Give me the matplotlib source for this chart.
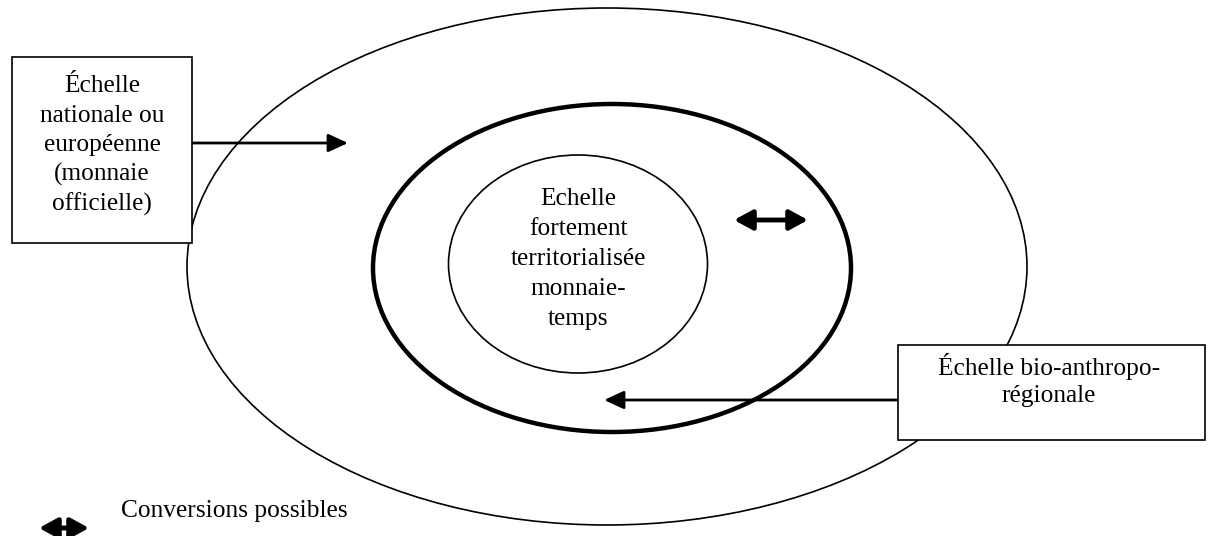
import matplotlib
matplotlib.use('Agg')
import matplotlib.pyplot as plt
from matplotlib.patches import Ellipse, Rectangle

plt.rcParams['font.family'] = ['Liberation Serif', 'DejaVu Serif']

# Texts of the diagram
left_label = ["Échelle", "nationale ou", "européenne", "(monnaie", "officielle)"]
inner_label = ["Echelle", "fortement", "territorialisée", "monnaie-", "temps"]
right_label = ["Échelle bio-anthropo-", "régionale"]
legend_label = "Conversions possibles"

fig = plt.figure(figsize=(12.08, 5.36), dpi=100)
ax = fig.add_axes([0, 0, 1, 1])
ax.set_xlim(0, 1208)
ax.set_ylim(536, 0)
ax.axis('off')

fs = 18.3

# ellipses
ax.add_patch(Ellipse((607, 266.5), 840, 517, fill=False, lw=1.2, ec='black', zorder=1))
ax.add_patch(Ellipse((612, 268), 478, 328, fill=False, lw=3.2, ec='black', zorder=1))
ax.add_patch(Ellipse((578, 264), 259, 218, fill=False, lw=1.2, ec='black', zorder=1))

# left box (white filled, on top of the ellipses)
ax.add_patch(Rectangle((12, 57), 180, 186, fc='white', lw=1.2, ec='black', zorder=3))
for i, line in enumerate(left_label):
    ax.text(102, 86 + i * 29.5, line, ha='center', va='center', fontsize=fs, zorder=4)

# inner text
for i, line in enumerate(inner_label):
    ax.text(578, 199 + i * 30, line, ha='center', va='center', fontsize=fs, zorder=4)

# right box
ax.add_patch(Rectangle((898, 345), 307, 95, fc='white', lw=1.2, ec='black', zorder=3))
for i, line in enumerate(right_label):
    ax.text(1049, 366 + i * 30, line, ha='center', va='center', fontsize=fs, zorder=4)

# arrows
arrow = dict(arrowstyle='-|>,head_length=1.2,head_width=0.55', lw=2, color='black',
             shrinkA=0, shrinkB=0)
ax.annotate('', xy=(348, 143), xytext=(192, 143), arrowprops=arrow, zorder=2)
ax.annotate('', xy=(604, 400), xytext=(898, 400), arrowprops=arrow, zorder=2)

darrow = dict(arrowstyle='<|-|>,head_length=1.1,head_width=0.6', lw=3.5, color='black',
              shrinkA=0, shrinkB=0)
ax.annotate('', xy=(808, 220), xytext=(734, 220), arrowprops=darrow, zorder=2)

# legend
ax.annotate('', xy=(89, 528), xytext=(39, 528), arrowprops=darrow, zorder=2)
ax.text(121, 511, legend_label, ha='left', va='center', fontsize=fs)

fig.savefig('out.png', dpi=100)
